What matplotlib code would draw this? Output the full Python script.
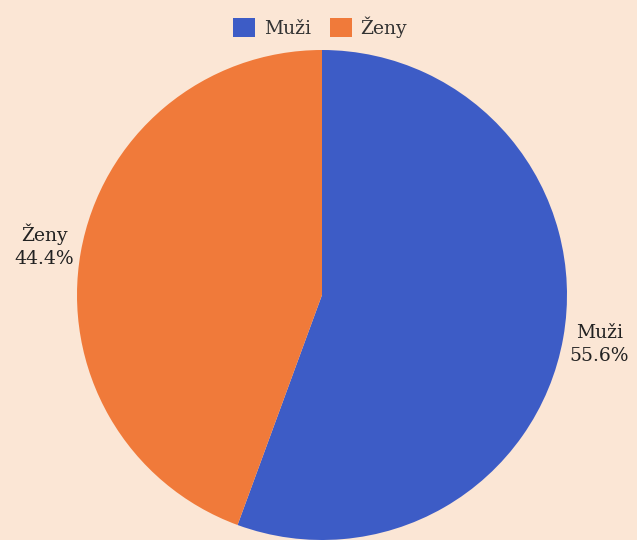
import matplotlib
matplotlib.use("Agg")
import matplotlib.pyplot as plt
import numpy as np

categories = ["Muži", "Ženy"]
values = [55.6, 44.4]
colors = ["#3d5cc6", "#f07a3a"]
bg = "#fbe6d5"

plt.rcParams['font.family'] = ['DejaVu Serif']

fig = plt.figure(figsize=(6.37, 5.4), dpi=100, facecolor=bg)
R = 245
cx, cy = 322, 295
W, H = 637, 540
ax = fig.add_axes([(cx - R) / W, (H - cy - R) / H, 2 * R / W, 2 * R / H])
ax.set_facecolor(bg)

wedges, texts = ax.pie(values, colors=colors, startangle=90, counterclock=False,
                       radius=1.0,
                       labels=[f"{c}\n{v}%" for c, v in zip(categories, values)],
                       labeldistance=1.15,
                       textprops=dict(fontsize=13.5, color="#222222", linespacing=1.4))
for t in texts:
    t.set_ha("center")
    t.set_va("center")
ax.set_xlim(-1, 1)
ax.set_ylim(-1, 1)
ax.set_aspect("equal")
ax.axis("off")
for t in texts:
    t.set_clip_on(False)

leg = fig.legend(wedges, categories, loc="center", bbox_to_anchor=(320 / W, 1 - 27 / H),
                 ncol=2, frameon=False, fontsize=13.5, handlelength=1.2, handleheight=1.2,
                 handletextpad=0.45, columnspacing=1.0)
for t in leg.get_texts():
    t.set_color("#333333")

fig.savefig("out.png", dpi=100, facecolor=bg)
